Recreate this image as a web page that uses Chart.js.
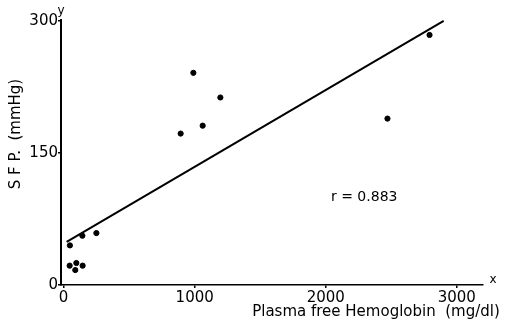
<!DOCTYPE html>
<html><head><meta charset="utf-8">
<script src="https://cdn.jsdelivr.net/npm/chart.js@4/dist/chart.umd.min.js"></script>
<style>html,body{margin:0;padding:0;background:#fff}#w{width:506px;height:327px}</style>
</head><body><div id="w"><canvas id="c"></canvas></div>
<script>
const hemoglobin = [48, 143, 250, 46, 97, 89, 145, 990, 1196, 1061, 893, 2792, 2471];
const sfp        = [45, 56, 59, 22, 25, 17, 22, 241, 213, 181, 172, 284, 189];
const fitX = [23, 2900];
const fitY = [49, 300];
const xTicks = [0, 1000, 2000, 3000];
const yTicks = [0, 150, 300];
const xTitle = 'Plasma free Hemoglobin  (mg/dl)';
const yTitle = 'S F P.  (mmHg)';
const rLabel = 'r = 0.883';

const FONT = 'DejaVu Sans, sans-serif';
const pts = hemoglobin.map((x,i)=>({x, y: sfp[i]}));
const linePts = fitX.map((x,i)=>({x, y: fitY[i]}));

const annot = {
  id:'annot',
  afterDraw(chart){
    const {ctx, chartArea:a, scales:{x, y}} = chart;
    ctx.save();
    ctx.fillStyle = '#000';
    ctx.font = '15px ' + FONT;
    ctx.textAlign = 'center'; ctx.textBaseline = 'middle';
    ctx.fillText(xTitle, 376, 312);
    ctx.save();
    ctx.translate(16, 134); ctx.rotate(-Math.PI/2);
    ctx.font = '15px ' + FONT;
    ctx.fillText(yTitle, 0, 0);
    ctx.restore();
    ctx.font = '12px ' + FONT;
    ctx.fillText('y', a.left, a.top - 9);
    ctx.fillText('x', a.right + 10, a.bottom - 5);
    ctx.font = '14px ' + FONT;
    ctx.textAlign = 'left';
    ctx.fillText(rLabel, x.getPixelForValue(2040), y.getPixelForValue(100));
    ctx.restore();
  }
};

new Chart(document.getElementById('c'), {
  type: 'scatter',
  data: { datasets: [
    { type:'line', data: linePts, borderColor:'#000', borderWidth:2, pointRadius:0, fill:false },
    { data: pts, backgroundColor:'#000', borderColor:'#000', pointRadius:2.6, pointHoverRadius:2.6 }
  ]},
  options: {
    responsive:true, maintainAspectRatio:false, animation:false,
    layout:{ padding:{ top:20, right:23, left:0, bottom:0 } },
    plugins:{ legend:{display:false}, tooltip:{enabled:false} },
    scales:{
      x:{ type:'linear', min:-20, max:3200,
        afterBuildTicks: s => { s.ticks = xTicks.map(v=>({value:v})); },
        afterFit: s => { s.height = 42; },
        grid:{ drawOnChartArea:false, drawTicks:true, tickLength:3, color:'#000', lineWidth:1.5 },
        border:{ display:true, color:'#000', width:1.5 },
        ticks:{ color:'#000', font:{ family:FONT, size:15 }, padding:1, maxRotation:0, autoSkip:false,
          callback: v => String(v) }
      },
      y:{ type:'linear', min:0, max:301,
        afterBuildTicks: s => { s.ticks = yTicks.map(v=>({value:v})); },
        afterFit: s => { s.width = 61; },
        grid:{ drawOnChartArea:false, drawTicks:true, tickLength:3, color:'#000', lineWidth:1.5 },
        border:{ display:true, color:'#000', width:2 },
        ticks:{ color:'#000', font:{ family:FONT, size:15 }, padding:0, autoSkip:false,
          callback: v => String(v) }
      }
    }
  },
  plugins:[annot]
});
</script></body></html>
